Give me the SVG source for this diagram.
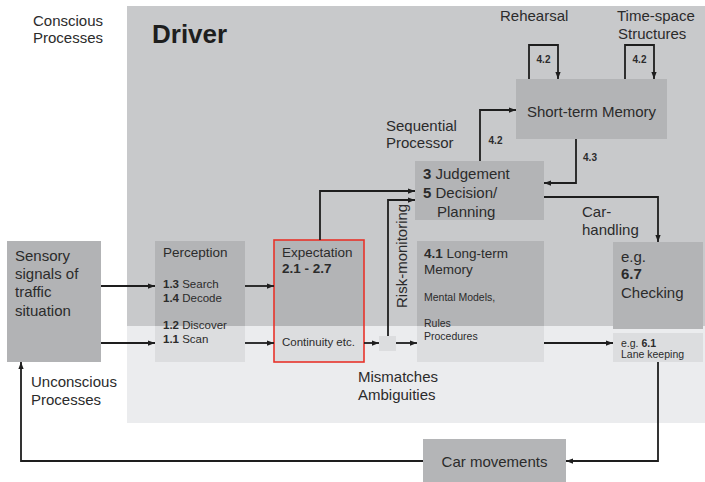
<svg xmlns="http://www.w3.org/2000/svg" width="705" height="482" viewBox="0 0 705 482">
<style>
text{font-family:"Liberation Sans",Arial,sans-serif;fill:#2b2b2b}
.l{font-size:15px}
.m{font-size:13.5px}
.s{font-size:11.5px}
.xs{font-size:10.5px}
.n{font-size:10px;font-weight:bold}
.b{font-weight:bold}
.dk{fill:#b3b4b6}
.lt{fill:#dcdddf}
.c{fill:none;stroke:#1e1e1e;stroke-width:1.8;marker-end:url(#ah)}
.p{fill:none;stroke:#1e1e1e;stroke-width:1.8}
</style>
<defs>
<marker id="ah" viewBox="0 0 8 6" refX="8" refY="3" markerWidth="7" markerHeight="5.5" markerUnits="userSpaceOnUse" orient="auto">
<path d="M0,0 L8,3 L0,6 z" fill="#1e1e1e"/>
</marker>
</defs>
<rect width="705" height="482" fill="#ffffff"/>
<g id="regions">
<rect x="127" y="6" width="578" height="320" fill="#c8c9cb"/>
<rect x="127" y="326" width="578" height="97" fill="#ebecee"/>
<text class="l" x="33" y="26">Conscious</text>
<text class="l" x="33" y="43">Processes</text>
<text x="152" y="43" style="font-size:26px;font-weight:bold;fill:#1e1e1e">Driver</text>
<text class="l" x="31" y="387">Unconscious</text>
<text class="l" x="31" y="405">Processes</text>
<text class="l" x="500" y="21">Rehearsal</text>
<text class="l" x="617" y="21">Time-space</text>
<text class="l" x="618" y="39">Structures</text>
<text class="l" x="386" y="131">Sequential</text>
<text class="l" x="386" y="148">Processor</text>
<text class="l" x="582" y="217">Car-</text>
<text class="l" x="582" y="235">handling</text>
<text class="l" x="358" y="382">Mismatches</text>
<text class="l" x="358" y="400">Ambiguities</text>
<text class="l" transform="translate(407,308) rotate(-90)">Risk-monitoring</text>
</g>
<g id="sensory">
<rect x="7" y="241" width="94" height="121" fill="#b2b3b5"/>
<text class="l" x="15" y="261">Sensory</text>
<text class="l" x="15" y="279">signals of</text>
<text class="l" x="15" y="297">traffic</text>
<text class="l" x="15" y="316">situation</text>
</g>
<g id="perception">
<rect class="dk" x="155" y="241" width="90" height="85"/>
<rect class="lt" x="155" y="326" width="90" height="36"/>
<text class="m" x="163" y="257">Perception</text>
<text class="s" x="163" y="288"><tspan class="b">1.3</tspan> Search</text>
<text class="s" x="163" y="302"><tspan class="b">1.4</tspan> Decode</text>
<text class="s" x="163" y="329"><tspan class="b">1.2</tspan> Discover</text>
<text class="s" x="163" y="343"><tspan class="b">1.1</tspan> Scan</text>
</g>
<g id="expectation">
<rect class="dk" x="274" y="240" width="90" height="86"/>
<rect class="lt" x="274" y="326" width="90" height="36"/>
<rect x="274" y="240" width="90" height="122" fill="none" stroke="#e8342b" stroke-width="1.6"/>
<text class="m" x="282" y="257">Expectation</text>
<text class="m b" x="282" y="273">2.1 - 2.7</text>
<text class="s" x="282" y="346">Continuity etc.</text>
</g>
<g id="junction">
<rect class="lt" x="379" y="336" width="17" height="15"/>
</g>
<g id="judgement">
<rect class="dk" x="415" y="161" width="129" height="59"/>
<text class="l" x="423" y="179"><tspan class="b">3</tspan> Judgement</text>
<text class="l" x="423" y="198"><tspan class="b">5</tspan> Decision/</text>
<text class="l" x="437" y="217">Planning</text>
</g>
<g id="longterm">
<rect class="dk" x="417" y="241" width="127" height="85"/>
<rect class="lt" x="417" y="326" width="127" height="36"/>
<text class="m" x="424" y="258"><tspan class="b">4.1</tspan> Long-term</text>
<text class="m" x="424" y="274">Memory</text>
<text class="xs" x="424" y="301">Mental Models,</text>
<text class="xs" x="424" y="327">Rules</text>
<text class="xs" x="424" y="340">Procedures</text>
</g>
<g id="shortterm">
<rect class="dk" x="516" y="79" width="151" height="60"/>
<text class="l" x="591.5" y="117" text-anchor="middle">Short-term Memory</text>
</g>
<g id="checking">
<rect class="dk" x="613" y="242" width="90" height="87"/>
<text class="l" x="621" y="262">e.g.</text>
<text class="l b" x="621" y="279">6.7</text>
<text class="l" x="621" y="298">Checking</text>
</g>
<g id="lanekeeping">
<rect class="lt" x="613" y="333" width="90" height="29"/>
<text class="xs" x="621" y="347">e.g. <tspan class="b">6.1</tspan></text>
<text class="xs" x="621" y="358">Lane keeping</text>
</g>
<g id="carmovements">
<rect x="423" y="439" width="143" height="43" fill="#b4b5b7"/>
<text class="l" x="494.5" y="467" text-anchor="middle">Car movements</text>
</g>
<g id="connectors">
<path class="c" d="M101,286 H155"/>
<path class="c" d="M101,343 H155"/>
<path class="c" d="M245,286 H274"/>
<path class="c" d="M245,343 H274"/>
<path class="c" d="M364,343 H379"/>
<path class="c" d="M396,343 H417"/>
<path class="c" d="M388,336 V200 H415"/>
<path class="c" d="M320,240 V191 H415"/>
<path class="c" d="M544,343 H613"/>
<path class="c" d="M544,197 H658 V242"/>
<path class="c" d="M480,161 V110 H516"/>
<path class="c" d="M576,139 V183 H544"/>
<path class="c" d="M529,79 V45 H558 V79"/>
<path class="c" d="M625,79 V45 H654 V79"/>
<path class="c" d="M658,362 V461 H566"/>
<path class="c" d="M423,461 H21 V362"/>
<text class="n" x="543.5" y="63" text-anchor="middle">4.2</text>
<text class="n" x="639.5" y="63" text-anchor="middle">4.2</text>
<text class="n" x="495.5" y="144" text-anchor="middle">4.2</text>
<text class="n" x="590" y="161" text-anchor="middle">4.3</text>
</g>
</svg>
